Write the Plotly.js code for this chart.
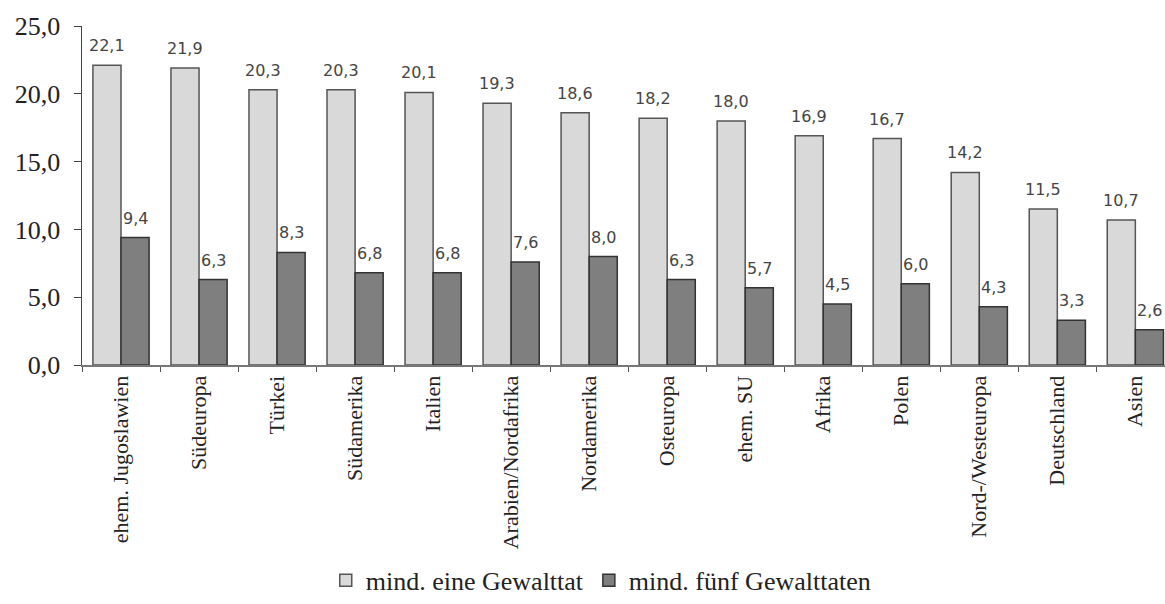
<!DOCTYPE html>
<html>
<head>
<meta charset="utf-8">
<script src="https://cdn.plot.ly/plotly-3.0.1.min.js"></script>
<style>html,body{margin:0;padding:0;background:#fff;}#chart{width:1165px;height:604px;}</style>
</head>
<body>
<div id="chart"></div>
<script>
var categories = ["ehem. Jugoslawien","Südeuropa","Türkei","Südamerika","Italien","Arabien/Nordafrika","Nordamerika","Osteuropa","ehem. SU","Afrika","Polen","Nord-/Westeuropa","Deutschland","Asien"];
var seriesNames = ["mind. eine Gewalttat","mind. fünf Gewalttaten"];
var valuesOne = [22.1,21.9,20.3,20.3,20.1,19.3,18.6,18.2,18.0,16.9,16.7,14.2,11.5,10.7];
var valuesFive = [9.4,6.3,8.3,6.8,6.8,7.6,8.0,6.3,5.7,4.5,6.0,4.3,3.3,2.6];
var yTickVals = [0,5,10,15,20,25];

function fmt(v){ return v.toFixed(1).replace('.', ','); }

var traces = [
  {type:'bar', name:seriesNames[0], x:categories, y:valuesOne,
   marker:{color:'#d9d9d9', line:{color:'#555555', width:1.5}}, hoverinfo:'none'},
  {type:'bar', name:seriesNames[1], x:categories, y:valuesFive,
   marker:{color:'#7f7f7f', line:{color:'#333333', width:1.5}}, hoverinfo:'none'}
];

var annotations = [];
var off = 0.18;
categories.forEach(function(c,i){
  annotations.push({x:i-off, y:valuesOne[i], xref:'x', yref:'y', text:fmt(valuesOne[i]),
    showarrow:false, yanchor:'bottom', yshift:8, font:{family:'DejaVu Sans, sans-serif', size:16, color:'#444'}});
  annotations.push({x:i+off, y:valuesFive[i], xref:'x', yref:'y', text:fmt(valuesFive[i]),
    showarrow:false, yanchor:'bottom', yshift:8, font:{family:'DejaVu Sans, sans-serif', size:16, color:'#444'}});
});

var layout = {
  width:1165, height:604,
  margin:{l:82, r:0, t:26, b:233},
  paper_bgcolor:'#fff', plot_bgcolor:'#fff',
  separators:',.',
  barmode:'group', bargap:0.28, bargroupgap:0,
  showlegend:true,
  legend:{orientation:'h', x:0.479, xanchor:'center', y:-0.635, yanchor:'middle',
    font:{family:'Liberation Serif, serif', size:26, color:'#222'}, itemwidth:30, traceorder:'normal'},
  xaxis:{type:'category', range:[-0.5, 13.38], tickangle:-90, tickson:'boundaries',
    ticks:'outside', ticklen:5, tickcolor:'#555', showline:true, linecolor:'#777', linewidth:2,
    showgrid:false, tickfont:{family:'Liberation Serif, serif', size:22, color:'#222'}},
  yaxis:{range:[0,25], tickvals:yTickVals, tickformat:'.1f', ticks:'outside', ticklen:7,
    tickcolor:'#444', showline:true, linecolor:'#444', linewidth:1.5, showgrid:false, zeroline:false,
    ticklabelstandoff:8,
    tickfont:{family:'Liberation Serif, serif', size:26, color:'#222'}},
  annotations:annotations
};

Plotly.newPlot('chart', traces, layout, {displayModeBar:false, staticPlot:true});
</script>
</body>
</html>
